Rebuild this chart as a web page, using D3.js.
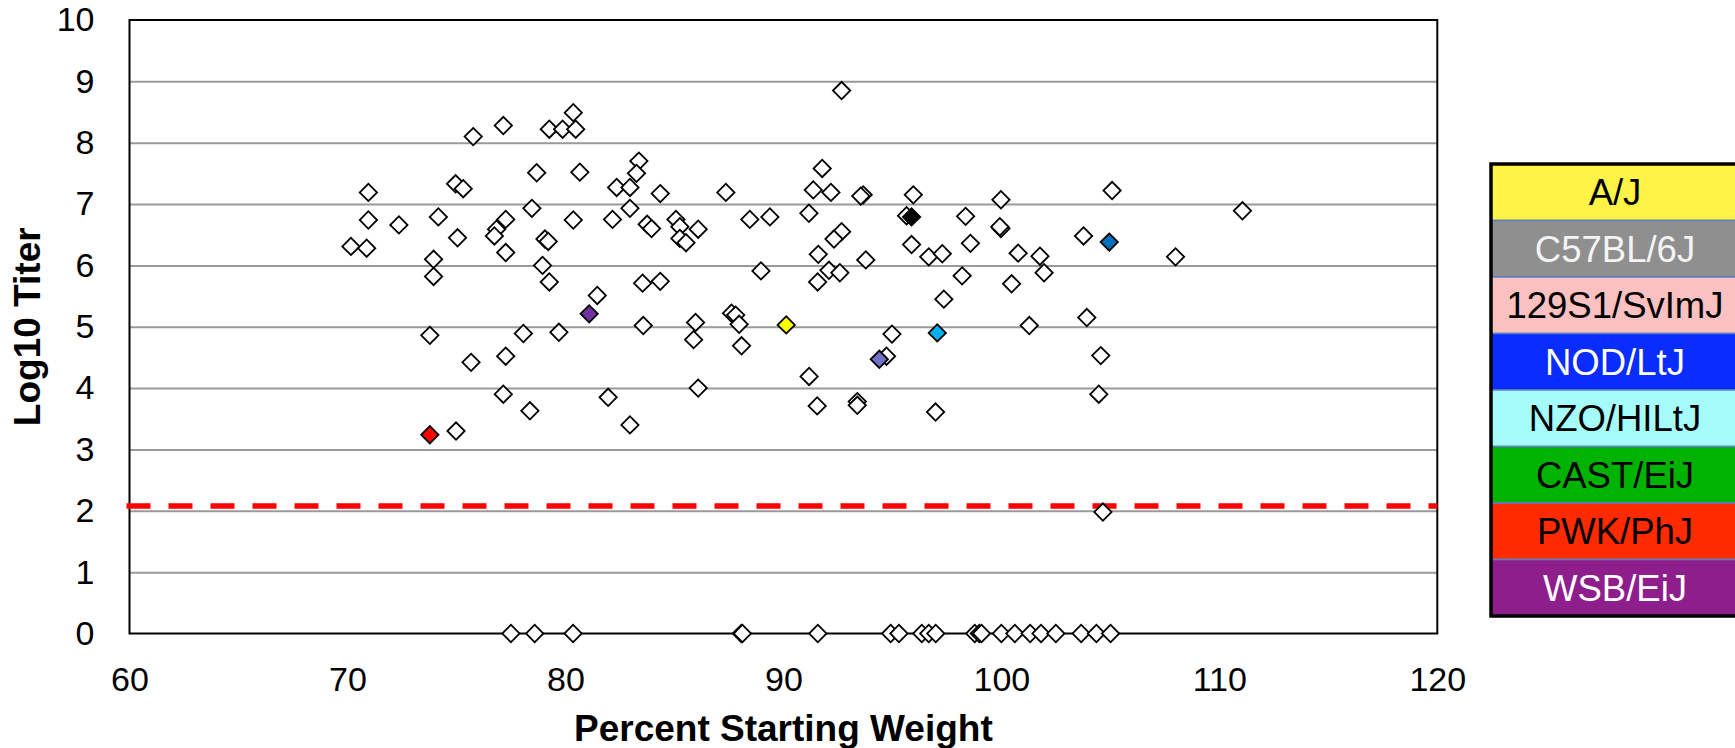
<!DOCTYPE html>
<html>
<head>
<meta charset="utf-8">
<script src="https://cdn.jsdelivr.net/npm/d3@7"></script>
<style>
  html, body { margin: 0; padding: 0; background: #fff; }
  svg { display: block; font-family: "Liberation Sans", Arial, sans-serif; }
</style>
</head>
<body>
<svg id="chart" width="1735" height="748"></svg>
<script>
// ---- data ----
const xTicks = [60, 70, 80, 90, 100, 110, 120];
const yTicks = [0, 1, 2, 3, 4, 5, 6, 7, 8, 9, 10];

// open (unlabelled) mice: percent starting weight, log10 titer
const openWeight = [
  80.36, 77.15, 75.77, 79.26, 79.87, 80.47, 78.68, 80.66, 83.37, 83.26, 82.35, 82.96, 84.35,
  74.96, 75.31, 70.96, 70.96, 72.36, 70.16, 70.88, 74.17, 75.05, 73.95, 73.95, 77.26, 76.84,
  76.74, 77.26, 78.46, 79.06, 79.21, 78.95, 79.26, 80.36, 82.16, 82.96, 83.75, 83.95, 83.54,
  84.35, 81.46,
  73.78, 78.07, 79.70, 83.57, 75.67, 77.26, 77.15, 78.37, 81.96, 82.96, 74.98,
  92.67, 91.78, 87.36, 91.37, 92.18, 93.66, 93.55, 95.96, 85.07, 85.25, 85.25, 85.53, 86.09,
  88.46, 89.38, 91.17, 92.67, 92.32, 91.60, 93.78, 95.65, 95.88, 96.67, 97.29, 98.36, 98.58,
  88.97, 92.09, 92.59, 91.57, 98.20,
  105.08, 99.98, 99.98, 99.93, 100.77, 101.77, 101.96, 100.47, 103.77, 107.99, 111.06,
  97.36, 85.97, 85.88, 87.62, 87.81, 87.97, 88.08, 94.98, 94.73, 91.18, 86.09, 91.55, 93.39,
  93.39, 96.98,
  103.92, 101.28, 104.56, 104.47, 104.66,
  77.50, 78.59, 80.35, 88.07, 88.12, 91.58, 94.92, 95.30, 96.35, 96.67, 96.99, 98.78, 98.99,
  99.09, 100.00, 100.62, 101.32, 101.82, 102.50, 103.66, 104.36, 105.01
];
const openTiter = [
  8.49, 8.28, 8.10, 8.22, 8.22, 8.22, 7.51, 7.52, 7.70, 7.50, 7.27, 7.27, 7.17,
  7.33, 7.25, 7.19, 6.74, 6.66, 6.31, 6.28, 6.79, 6.45, 6.10, 5.82, 6.75, 6.59,
  6.48, 6.21, 6.93, 6.43, 6.39, 6.00, 5.73, 6.74, 6.75, 6.93, 6.67, 6.60, 5.71,
  5.74, 5.51,
  4.86, 4.89, 4.91, 5.02, 4.42, 4.52, 3.90, 3.63, 3.85, 3.40, 3.30,
  8.85, 7.58, 7.19, 7.23, 7.19, 7.15, 7.13, 7.15, 6.75, 6.63, 6.44, 6.37, 6.59,
  6.75, 6.79, 6.85, 6.55, 6.43, 6.18, 6.09, 6.81, 6.34, 6.14, 6.19, 6.80, 6.36,
  5.91, 5.92, 5.88, 5.73, 5.83,
  7.22, 7.07, 6.60, 6.63, 6.20, 6.15, 5.88, 5.70, 6.48, 6.14, 6.89,
  5.45, 5.07, 4.79, 5.22, 5.19, 5.04, 4.69, 4.88, 4.52, 4.19, 4.00, 3.71, 3.78,
  3.72, 3.61,
  5.15, 5.02, 4.53, 3.90, 1.98,
  0, 0, 0, 0, 0, 0, 0, 0, 0, 0, 0, 0, 0,
  0, 0, 0, 0, 0, 0, 0, 0, 0
];

// founder-strain mice (filled markers)
const founderWeight = [73.78, 81.09, 90.13, 94.40, 95.88, 97.06, 104.95];
const founderTiter  = [3.24, 5.21, 5.03, 4.47, 6.79, 4.90, 6.38];
const founderFill   = ["#ff0000", "#7030a0", "#ffff00", "#7171c8", "#000000", "#00b0f0", "#0070c0"];

// detection limit
const limitTiter = 2.08;

// legend
const legendStrains = ["A/J", "C57BL/6J", "129S1/SvImJ", "NOD/LtJ", "NZO/HILtJ", "CAST/EiJ", "PWK/PhJ", "WSB/EiJ"];
const legendFill    = ["#fff445", "#8f8f8f", "#fbc0c0", "#0a2dff", "#a6fbfb", "#00b300", "#ff2a00", "#8e1e8c"];
const legendText    = ["#000", "#f4f4f4", "#000", "#fff", "#000", "#000", "#000", "#fff"];

const xTitle = "Percent Starting Weight";
const yTitle = "Log10 Titer";

// ---- drawing ----
const svg = d3.select("#chart");
const L = 129.5, R = 1437.3, T = 20, B = 633.5;
const x = d3.scaleLinear().domain([60, 120]).range([L, R]);
const y = d3.scaleLinear().domain([0, 10]).range([B, T]);

// gridlines
const grid = svg.append("g").attr("transform", `translate(${L},0)`)
  .call(d3.axisLeft(y).tickValues(yTicks.filter(v => v > 0 && v < 10)).tickSize(-(R - L)).tickFormat(""));
grid.select(".domain").remove();
grid.selectAll("line").attr("stroke", "#9a9a9a").attr("stroke-width", 2);

// plot border
svg.append("rect").attr("x", L).attr("y", T).attr("width", R - L).attr("height", B - T)
  .attr("fill", "none").attr("stroke", "#000").attr("stroke-width", 2);

// y axis labels
const ya = svg.append("g").attr("transform", `translate(${L},0)`)
  .call(d3.axisLeft(y).tickValues(yTicks).tickSize(0).tickPadding(35).tickFormat(d3.format("d")));
ya.select(".domain").remove();
ya.selectAll("text").attr("font-size", 34).attr("font-family", "Liberation Sans, Arial, sans-serif").attr("fill", "#000");

// x axis labels
const xa = svg.append("g").attr("transform", `translate(0,${B})`)
  .call(d3.axisBottom(x).tickValues(xTicks).tickSize(0).tickPadding(33).tickFormat(d3.format("d")));
xa.select(".domain").remove();
xa.selectAll("text").attr("font-size", 34).attr("font-family", "Liberation Sans, Arial, sans-serif").attr("fill", "#000");

// axis titles
svg.append("text").attr("x", (L + R) / 2).attr("y", 741).attr("text-anchor", "middle")
  .attr("font-size", 37).attr("font-weight", "bold").text(xTitle);
svg.append("text").attr("transform", `translate(40,${(T + B) / 2}) rotate(-90)`).attr("text-anchor", "middle")
  .attr("font-size", 37).attr("font-weight", "bold").text(yTitle);

// detection limit dashed line
svg.append("line").attr("x1", x(60) - 3).attr("x2", x(120)).attr("y1", y(limitTiter)).attr("y2", y(limitTiter))
  .attr("stroke", "#ff0000").attr("stroke-width", 5.5).attr("stroke-dasharray", "24,18");

// markers
const diamond = d3.symbol().type(d3.symbolSquare).size(150);
const openPts = openWeight.map((w, i) => ({ w, t: openTiter[i] }));
svg.append("g").selectAll("path").data(openPts).join("path")
  .attr("d", diamond)
  .attr("transform", d => `translate(${x(d.w)},${y(d.t)}) rotate(45)`)
  .attr("fill", "#fff").attr("stroke", "#000").attr("stroke-width", 1.8);

const fPts = founderWeight.map((w, i) => ({ w, t: founderTiter[i], c: founderFill[i] }));
svg.append("g").selectAll("path").data(fPts).join("path")
  .attr("d", diamond)
  .attr("transform", d => `translate(${x(d.w)},${y(d.t)}) rotate(45)`)
  .attr("fill", d => d.c).attr("stroke", "#000").attr("stroke-width", 1.8);

// legend table
const lgX = 1491, lgY = 164, lgW = 252, rowH = 56.5;
const lg = svg.append("g");
lg.selectAll("rect.cell").data(legendStrains).join("rect").attr("class", "cell")
  .attr("x", lgX).attr("y", (d, i) => lgY + i * rowH).attr("width", lgW).attr("height", rowH)
  .attr("fill", (d, i) => legendFill[i]).attr("stroke", "#5b7fc4").attr("stroke-width", 1.5);
lg.append("rect").attr("x", lgX).attr("y", lgY).attr("width", lgW).attr("height", rowH * legendStrains.length)
  .attr("fill", "none").attr("stroke", "#000").attr("stroke-width", 3.5);
lg.selectAll("text").data(legendStrains).join("text")
  .attr("x", lgX + 124).attr("y", (d, i) => lgY + i * rowH + rowH / 2 + 13)
  .attr("text-anchor", "middle").attr("font-size", 36.5)
  .attr("fill", (d, i) => legendText[i]).text(d => d);
</script>
</body>
</html>
